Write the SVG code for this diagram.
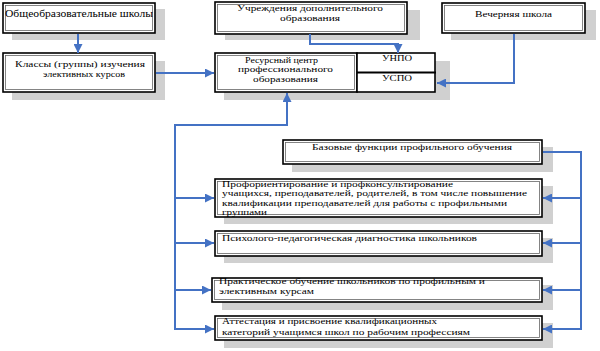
<svg xmlns="http://www.w3.org/2000/svg" width="600" height="351" viewBox="0 0 600 351">
<defs>
<style>
.sh{fill:#d0d0d0}
.bx{fill:#fff;stroke:#000;stroke-width:1.6}
.in{fill:none;stroke:#666;stroke-width:0.8}
.t{font-family:"Liberation Serif","Times New Roman",serif;font-size:8.5px;fill:#000}
.ln{fill:none;stroke:#4472c4;stroke-width:2}
</style>
<marker id="ah" viewBox="0 0 10 10" refX="10" refY="5" markerWidth="10" markerHeight="9" markerUnits="userSpaceOnUse" orient="auto">
<path d="M0,0 L10,5 L0,10 Z" fill="#4472c4"/>
</marker>
</defs>
<rect width="600" height="351" fill="#fff"/>

<g id="schools">
<rect class="sh" x="12" y="9" width="153" height="31"/>
<rect class="bx" x="3" y="3" width="152" height="30"/>
<rect class="in" x="5.5" y="5.5" width="147" height="25"/>
<text class="t" x="5" y="17" style="font-size:9.5px" textLength="148" lengthAdjust="spacingAndGlyphs">Общеобразовательные школы</text>
</g>

<g id="classes">
<rect class="sh" x="12" y="61" width="153" height="39"/>
<rect class="bx" x="3" y="53" width="152" height="39"/>
<rect class="in" x="5.5" y="55.5" width="147" height="34"/>
<text class="t" x="15" y="66.5" textLength="130" lengthAdjust="spacingAndGlyphs">Классы (группы) изучения</text>
<text class="t" x="43" y="77" textLength="82" lengthAdjust="spacingAndGlyphs">элективных курсов</text>
</g>

<g id="dop">
<rect class="sh" x="225" y="10" width="195" height="30"/>
<rect class="bx" x="215" y="2" width="192" height="32"/>
<rect class="in" x="217.5" y="4.5" width="187" height="27"/>
<text class="t" x="237" y="10.5" textLength="146" lengthAdjust="spacingAndGlyphs">Учреждения дополнительного</text>
<text class="t" x="280" y="20.5" textLength="60" lengthAdjust="spacingAndGlyphs">образования</text>
</g>

<g id="evening">
<rect class="sh" x="451" y="10" width="145" height="30"/>
<rect class="bx" x="442" y="3" width="143" height="30"/>
<rect class="in" x="444.5" y="5.5" width="138" height="25"/>
<text class="t" x="475" y="17" textLength="77" lengthAdjust="spacingAndGlyphs">Вечерняя школа</text>
</g>

<g id="center">
<rect class="sh" x="224" y="61" width="226" height="39"/>
<rect class="bx" x="215" y="53" width="142" height="39"/>
<rect class="in" x="217.5" y="55.5" width="137" height="34"/>
<text class="t" x="245" y="62.5" textLength="73" lengthAdjust="spacingAndGlyphs">Ресурсный центр</text>
<text class="t" x="238" y="72" textLength="95" lengthAdjust="spacingAndGlyphs">профессионального</text>
<text class="t" x="253" y="81.5" textLength="65" lengthAdjust="spacingAndGlyphs">оборазования</text>
</g>

<g id="unpo-uspo">
<rect x="357" y="53" width="78" height="39" fill="#fff" stroke="#000" stroke-width="1.6"/>
<line x1="357" y1="72.5" x2="436" y2="72.5" stroke="#000" stroke-width="2.2"/>
<text class="t" x="382" y="61" textLength="30" lengthAdjust="spacingAndGlyphs">УНПО</text>
<text class="t" x="382" y="81" textLength="30" lengthAdjust="spacingAndGlyphs">УСПО</text>
</g>

<g id="base">
<rect class="sh" x="292" y="147" width="261" height="25"/>
<rect class="bx" x="283" y="140" width="259" height="24"/>
<rect class="in" x="285.5" y="142.5" width="254" height="19"/>
<text class="t" x="312" y="150" textLength="200" lengthAdjust="spacingAndGlyphs">Базовые функции профильного обучения</text>
</g>

<g id="f1">
<rect class="sh" x="224" y="186" width="329" height="38"/>
<rect class="bx" x="215" y="179" width="327" height="38"/>
<rect class="in" x="217.5" y="181.5" width="322" height="33"/>
<text class="t" x="222" y="186.5" textLength="231" lengthAdjust="spacingAndGlyphs">Профориентирование и профконсультирование</text>
<text class="t" x="222" y="196" textLength="305" lengthAdjust="spacingAndGlyphs">учащихся, преподавателей, родителей, в том числе повышение</text>
<text class="t" x="222" y="205.5" textLength="285" lengthAdjust="spacingAndGlyphs">квалификации преподавателей для работы с профильными</text>
<text class="t" x="222" y="215" textLength="45" lengthAdjust="spacingAndGlyphs">группами</text>
</g>

<g id="f2">
<rect class="sh" x="224" y="238" width="329" height="25"/>
<rect class="bx" x="215" y="231" width="327" height="25"/>
<rect class="in" x="217.5" y="233.5" width="322" height="20"/>
<text class="t" x="222" y="241" textLength="255" lengthAdjust="spacingAndGlyphs">Психолого-педагогическая диагностика школьников</text>
</g>

<g id="f3">
<rect class="sh" x="222" y="285" width="331" height="25"/>
<rect class="bx" x="212" y="278" width="330" height="24"/>
<rect class="in" x="214.5" y="280.5" width="325" height="19"/>
<text class="t" x="219" y="284" textLength="266" lengthAdjust="spacingAndGlyphs">Практическое обучение школьников по профильным и</text>
<text class="t" x="219" y="294" textLength="95" lengthAdjust="spacingAndGlyphs">элективным курсам</text>
</g>

<g id="f4">
<rect class="sh" x="224" y="323" width="329" height="25"/>
<rect class="bx" x="215" y="316" width="327" height="24"/>
<rect class="in" x="217.5" y="318.5" width="322" height="19"/>
<text class="t" x="222" y="324" textLength="215" lengthAdjust="spacingAndGlyphs">Аттестация и присвоение квалификационных</text>
<text class="t" x="222" y="335" textLength="248" lengthAdjust="spacingAndGlyphs">категорий учащимся школ по рабочим профессиям</text>
</g>

<g id="connectors">
<line class="ln" x1="78" y1="34" x2="78" y2="53" marker-end="url(#ah)"/>
<line class="ln" x1="156" y1="73" x2="214" y2="73" marker-end="url(#ah)"/>
<polyline class="ln" points="310,34 310,44 398,44 398,53" marker-end="url(#ah)"/>
<polyline class="ln" points="514,34 514,83 437,83" marker-end="url(#ah)"/>
<polyline class="ln" points="175,330 175,125 287,125 287,93" marker-end="url(#ah)"/>
<line class="ln" x1="175" y1="198" x2="214" y2="198" marker-end="url(#ah)"/>
<line class="ln" x1="175" y1="243" x2="214" y2="243" marker-end="url(#ah)"/>
<line class="ln" x1="175" y1="290" x2="211" y2="290" marker-end="url(#ah)"/>
<line class="ln" x1="174" y1="329" x2="214" y2="329" marker-end="url(#ah)"/>
<polyline class="ln" points="543,152 581,152 581,329"/>
<line class="ln" x1="582" y1="198" x2="543" y2="198" marker-end="url(#ah)"/>
<line class="ln" x1="581" y1="243" x2="543" y2="243" marker-end="url(#ah)"/>
<line class="ln" x1="581" y1="290" x2="543" y2="290" marker-end="url(#ah)"/>
<line class="ln" x1="582" y1="329" x2="543" y2="329" marker-end="url(#ah)"/>
</g>
</svg>
